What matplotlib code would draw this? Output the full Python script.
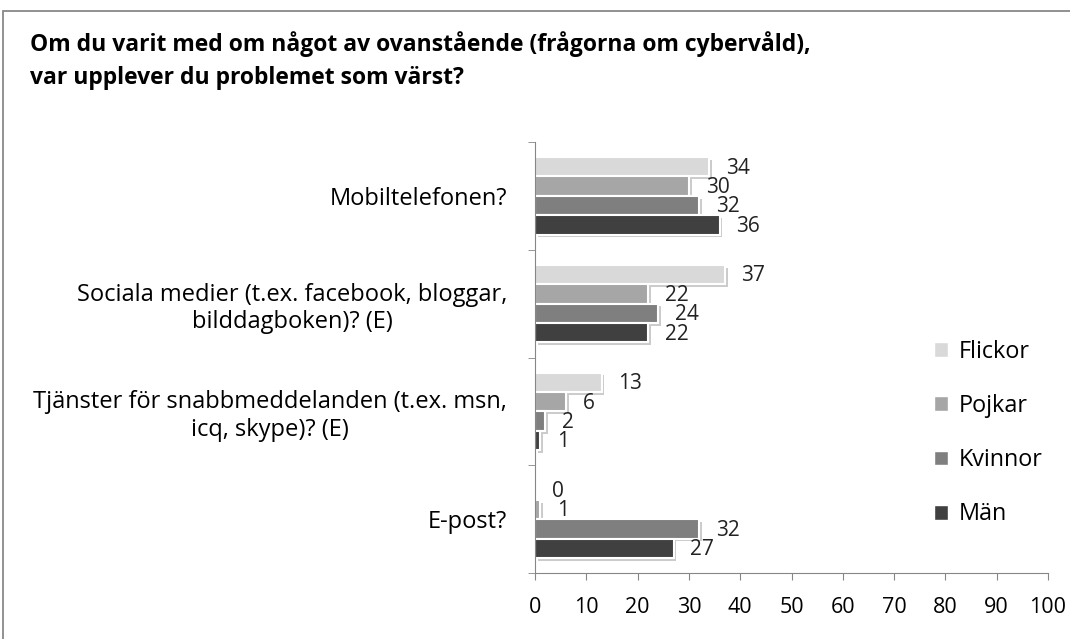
import matplotlib
matplotlib.use("Agg")
import matplotlib.pyplot as plt
import numpy as np
from matplotlib import patheffects as pe
from matplotlib.patches import Rectangle, Patch

plt.rcParams['font.family'] = ['Open Sans', 'DejaVu Sans']

title = "Om du varit med om något av ovanstående (frågorna om cybervåld),\nvar upplever du problemet som värst?"
categories = [
    "Mobiltelefonen?",
    "Sociala medier (t.ex. facebook, bloggar,\nbilddagboken)? (E)",
    "Tjänster för snabbmeddelanden (t.ex. msn,\nicq, skype)? (E)",
    "E-post?",
]
series = ["Flickor", "Pojkar", "Kvinnor", "Män"]
flickor = [34, 37, 13, 0]
pojkar = [30, 22, 6, 1]
kvinnor = [32, 24, 2, 32]
man = [36, 22, 1, 27]
values = [flickor, pojkar, kvinnor, man]
colors = ["#D9D9D9", "#A6A6A6", "#7F7F7F", "#404040"]
xticks = list(range(0, 101, 10))

fig = plt.figure(figsize=(10.7, 6.39), dpi=100)
ax = fig.add_axes([535/1070, 1-573/639, (1048-535)/1070, (573-142)/639])

y = np.arange(len(categories))
h = 0.18
shadow = [pe.SimplePatchShadow(offset=(2, -2), shadow_rgbFace='#999999', alpha=0.5), pe.Normal()]
for i, (name, vals, col) in enumerate(zip(series, values, colors)):
    pos = y + (i - 1.5) * h
    ax.barh(pos, vals, height=h, color=col, edgecolor='white', linewidth=1.5,
            label=name, path_effects=shadow)
    for p, v in zip(pos, vals):
        ax.annotate(str(v), (v, p), xytext=(12, -1), textcoords='offset points',
                    va='center', ha='left', fontsize=15, color='#222222')

ax.set_xlim(0, 100)
ax.set_ylim(3.5, -0.5)
ax.set_xticks(xticks)
ax.set_yticks(y)
ax.set_yticklabels(categories, fontsize=17, multialignment='center')
ax.set_yticks([-0.5, 0.5, 1.5, 2.5, 3.5], minor=True)
ax.tick_params(axis='y', which='major', length=0, pad=20)
ax.tick_params(axis='y', which='minor', length=5, color='#868686')
ax.tick_params(axis='x', length=5, color='#868686', pad=12, labelsize=15.5)
for s in ['top', 'right']:
    ax.spines[s].set_visible(False)
for s in ['left', 'bottom']:
    ax.spines[s].set_color('#868686')

handles = [Patch(facecolor=c, edgecolor='white', label=n) for n, c in zip(series, colors)]
fig.legend(handles=handles, loc='center left', bbox_to_anchor=(934/1070, 1-433/639),
           frameon=False, handlelength=0.6, handleheight=0.6, labelspacing=1.3,
           fontsize=16.8, handletextpad=0.45, borderaxespad=0, borderpad=0)

fig.text(30/1070, 1-61/639, title, fontsize=16.5, fontweight='bold', va='center',
         linespacing=1.5)

fig.patches.append(Rectangle((3/1070, -0.1), 1.2, 1 - 11/639 + 0.1, transform=fig.transFigure,
                             fill=False, edgecolor='#888888', linewidth=1.3))

fig.savefig("out.png", dpi=100)
